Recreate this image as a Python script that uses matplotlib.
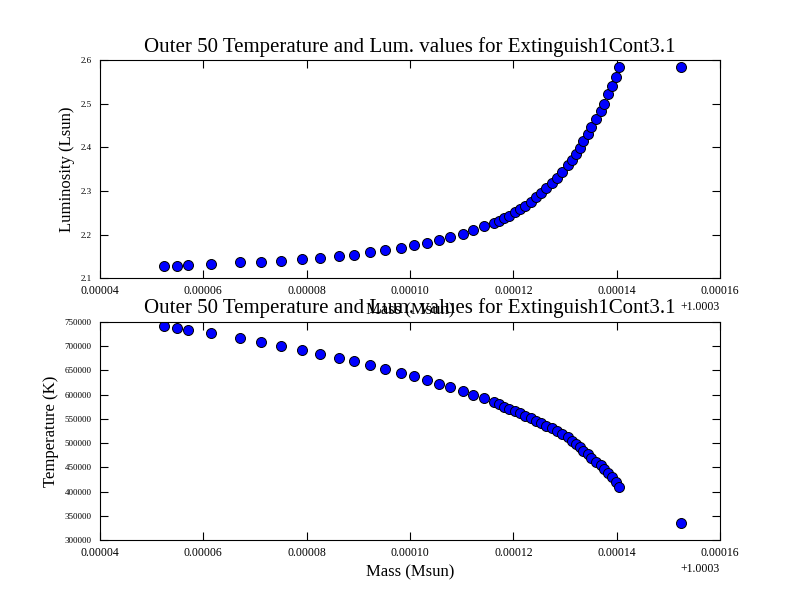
import numpy as np
import matplotlib
matplotlib.use('Agg')
import matplotlib.pyplot as plt
from matplotlib.ticker import ScalarFormatter, FormatStrFormatter

plt.rcParams['font.family'] = ['Liberation Serif', 'DejaVu Serif']
plt.rcParams['xtick.direction'] = 'in'
plt.rcParams['ytick.direction'] = 'in'
plt.rcParams['xtick.top'] = True
plt.rcParams['ytick.right'] = True

# Masa de las 50 zonas exteriores (leida como desplazamiento sobre 1.0003)
mass_base = 1.0003
mass_offset = [5.245e-5, 5.496e-5, 5.697e-5, 6.154e-5, 6.710e-5, 7.110e-5, 7.509e-5,
               7.910e-5, 8.264e-5, 8.620e-5, 8.916e-5, 9.220e-5, 9.516e-5, 9.820e-5,
               10.072e-5, 10.323e-5, 10.555e-5, 10.780e-5, 11.026e-5, 11.225e-5, 11.426e-5,
               11.626e-5, 11.728e-5, 11.825e-5, 11.922e-5, 12.032e-5, 12.129e-5, 12.226e-5,
               12.336e-5, 12.433e-5, 12.530e-5, 12.632e-5, 12.743e-5, 12.839e-5, 12.948e-5,
               13.064e-5, 13.130e-5, 13.207e-5, 13.290e-5, 13.354e-5, 13.440e-5, 13.503e-5,
               13.600e-5, 13.697e-5, 13.755e-5, 13.838e-5, 13.904e-5, 13.987e-5, 14.051e-5,
               15.251e-5]

# Luminosidad (Lsun)
lum = [2.128, 2.128, 2.130, 2.133, 2.136, 2.138, 2.140, 2.143, 2.147, 2.150,
       2.153, 2.159, 2.164, 2.169, 2.175, 2.180, 2.188, 2.194, 2.202, 2.210,
       2.219, 2.226, 2.231, 2.237, 2.243, 2.251, 2.259, 2.266, 2.275, 2.285,
       2.295, 2.306, 2.318, 2.329, 2.344, 2.360, 2.371, 2.385, 2.399, 2.414,
       2.430, 2.447, 2.465, 2.482, 2.500, 2.521, 2.540, 2.562, 2.584, 2.585]

# Temperatura (K)
temp = [742400, 736900, 732800, 727300, 717600, 708700, 700500, 692200, 684600, 676400,
        668800, 661200, 653000, 645400, 637800, 630300, 622700, 615100, 607600, 600000,
        592400, 585500, 580100, 575200, 570400, 566300, 561500, 556600, 551200, 546300,
        540900, 535900, 530600, 525000, 518800, 512000, 505000, 498800, 491400, 484300,
        476900, 469300, 461600, 454200, 445900, 437700, 429400, 420400, 410000, 335800]

mass = mass_base + np.array(mass_offset)
title = 'Outer 50 Temperature and Lum. values for Extinguish1Cont3.1'

fig = plt.figure(figsize=(8, 6), dpi=100)

ax1 = fig.add_subplot(211)
ax1.plot(mass, lum, 'o', color='blue', mec='black', mew=0.7, ms=7.2)
ax1.set_xlim(mass_base + 0.00004, mass_base + 0.00016)
ax1.set_ylim(2.1, 2.6)
ax1.set_yticks(np.arange(2.1, 2.61, 0.1))
ax1.yaxis.set_major_formatter(FormatStrFormatter('%.1f'))
ax1.set_title(title, fontsize=15)
ax1.set_xlabel('Mass (Msun)', fontsize=12)
ax1.set_ylabel('Luminosity (Lsun)', fontsize=12)

ax2 = fig.add_subplot(212)
ax2.plot(mass, temp, 'o', color='blue', mec='black', mew=0.7, ms=7.2)
ax2.set_xlim(mass_base + 0.00004, mass_base + 0.00016)
ax2.set_ylim(300000, 750000)
ax2.set_yticks(np.arange(300000, 750001, 50000))
ax2.yaxis.set_major_formatter(FormatStrFormatter('%d'))
ax2.set_title(title, fontsize=15)
ax2.set_xlabel('Mass (Msun)', fontsize=12)
ax2.set_ylabel('Temperature (K)', fontsize=12)

for ax in (ax1, ax2):
    ax.set_xticks(mass_base + np.array([0.00004, 0.00006, 0.00008, 0.00010, 0.00012, 0.00014, 0.00016]))
    fmt = ScalarFormatter(useOffset=mass_base)
    ax.xaxis.set_major_formatter(fmt)
    ax.tick_params(axis='x', labelsize=8.5, length=6, pad=5)
    ax.tick_params(axis='y', labelsize=6.5, length=6, pad=6)
    ax.xaxis.get_offset_text().set_fontsize(8.5)

fig.subplots_adjust(left=0.125, right=0.9, bottom=0.1, top=0.9, hspace=0.2)
fig.savefig('out.png', dpi=100)
